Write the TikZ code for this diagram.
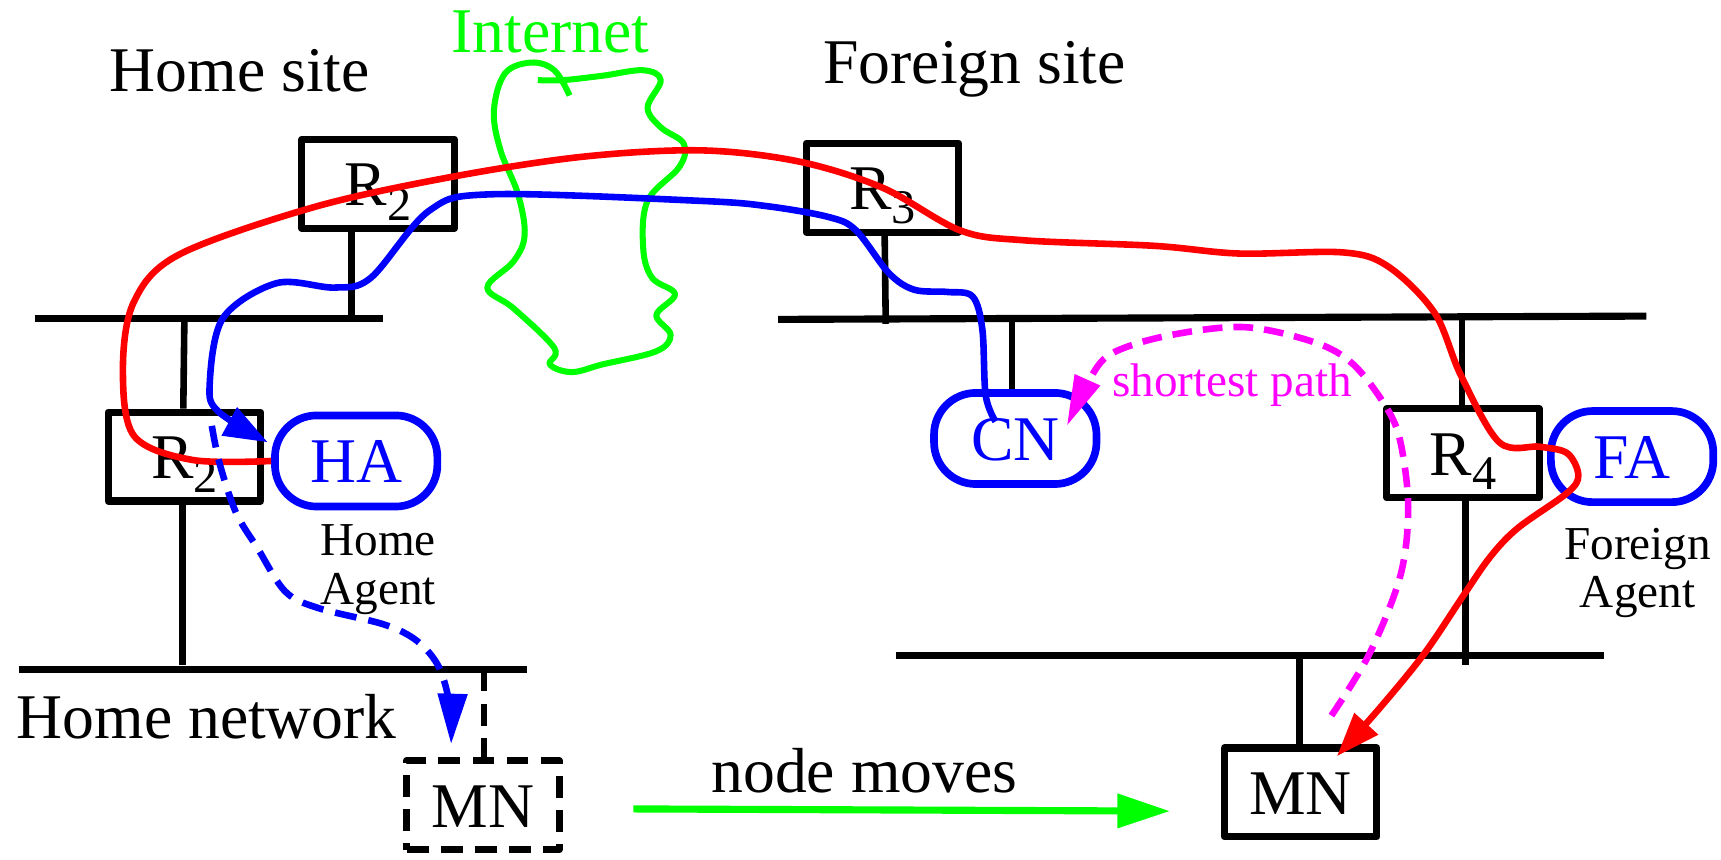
\documentclass[tikz,border=0pt]{standalone}
\usepackage{fontspec}
\setmainfont{Liberation Serif}
\usetikzlibrary{arrows.meta,calc}
\definecolor{pblue}{RGB}{0,0,255}
\definecolor{pred}{RGB}{255,0,0}
\definecolor{pgreen}{RGB}{0,255,0}
\definecolor{pmag}{RGB}{255,0,255}
\newcommand{\mainsz}{\fontsize{58}{62}\selectfont}
\newcommand{\smallsz}{\fontsize{43}{44}\selectfont}
\newcommand{\Rlab}[1]{R\raisebox{-13pt}{\fontsize{44}{44}\selectfont #1}}
\begin{document}
\begin{tikzpicture}[x=1pt,y=-1pt,line join=round]
\useasboundingbox (0,0) rectangle (1568,783);
\tikzset{
  router/.style={draw,line width=6.5pt,minimum width=139pt,minimum height=81pt,inner sep=0pt,font=\mainsz,text height=40pt,text depth=0pt},
  agent/.style={draw=pblue,text=pblue,line width=7pt,rounded corners=38pt,minimum width=148pt,minimum height=83pt,inner sep=0pt,font=\mainsz,text height=40pt,text depth=0pt},
  bus/.style={line width=6.5pt},
  stub/.style={line width=6pt},
  lab/.style={inner sep=0pt,font=\mainsz},
  smalllab/.style={inner sep=0pt,font=\smallsz,align=center},
  route/.style={line width=6pt},
  bigtip/.style={-{Triangle[length=40pt,width=28pt]}},
}
% network buses
\coordinate (b1w) at (32,290);   \coordinate (b1e) at (349,290);
\coordinate (b2w) at (709,291);  \coordinate (b2e) at (1500,288);
\coordinate (b3w) at (17,610);   \coordinate (b3e) at (480,610);
\coordinate (b4w) at (816,597);  \coordinate (b4e) at (1461,597);
\draw[bus] (b1w) -- (b1e);
\draw[bus] (b2w) -- (b2e);
\draw[bus] (b3w) -- (b3e);
\draw[bus] (b4w) -- (b4e);

% nodes
\node[router] (R2t) at (344.5,167.5) {\Rlab{2}};
\node[router] (R2l) at (168,416) {\Rlab{2}};
\node[router] (R3) at (804,171) {\Rlab{3}};
\node[router] (R4) at (1333,413) {\Rlab{4}};
\node[router,dash pattern=on 20pt off 11pt] (MNd) at (440,733.5) {MN};
\node[router] (MNs) at (1185,722) {MN};
\node[agent] (HA) at (324.5,420) {HA};
\node[agent] (CN) at (925,399.5) {CN};
\node[agent] (FA) at (1487,416) {FA};

% stubs
\draw[stub] (R2t.south -| 320,0) -- (320,290);
\draw[stub] (168,290) -- (R2l.north -| 167,0);
\draw[stub] (R2l.south -| 166.5,0) -- (166.5,606);
\draw[stub,dash pattern=on 20pt off 11pt] (441,610) -- (MNd.north -| 441,0);
\draw[stub] (R3.south -| 806,0) -- (807,295);
\draw[stub] (922,290) -- (CN.north -| 922,0);
\draw[stub] (1332,289) -- (R4.north -| 1332,0);
\draw[stub] (R4.south -| 1335,0) -- (1335,606);
\draw[stub] (1184,597) -- (MNs.north -| 1184,0);

% labels
\node[lab,anchor=base west] (homesite) at (100,83) {Home site};
\node[lab,anchor=base west,text=pgreen] (internet) at (411,48) {Internet};
\node[lab,anchor=base west] (foreignsite) at (750,76.5) {Foreign site};
\node[lab,anchor=base west] (homenet) at (15,673) {Home network};
\node[lab,anchor=base west] (moves) at (648,722) {node moves};
\node[smalllab,anchor=north] (haname) at (344.5,478) {Home\\Agent};
\node[smalllab,anchor=north] (faname) at (1492,481) {Foreign\\Agent};
\node[smalllab,anchor=base west,text=pmag] (shortest) at (1013,361) {shortest path};

% internet cloud
\draw[line width=5.5pt,pgreen] plot[smooth,tension=0.6] coordinates {
 (519,87) (505,64) (484,57) (460,67) (450,101) (456,137) (472,177) (478,214)
 (468,238) (444,262) (468,281) (505,317) (501,332) (521,339) (549,332) (598,320)
 (611,305) (598,287) (615,268) (594,253) (586,226) (590,183) (619,152) (623,131)
 (602,116) (590,98) (602,73) (586,64) (549,69) (513,73) (490,73)};

% node moves arrow
\coordinate (mvs) at (577,737);
\coordinate (mve) at (1066,739);
\draw[line width=6.5pt,pgreen,-{Triangle[length=48pt,width=30pt]}] (mvs) -- (mve);

% red route
\draw[route,pred,bigtip] plot[smooth,tension=0.55] coordinates {
 (HA.west) (175,419) (122,397) (112,336) (122,275) (163,232) (285,189) (407,162)
 (529,143) (638,137) (727,147) (804,171) (875,210) (934,219) (1052,224) (1129,231)
 (1224,230) (1265,243) (1307,285) (1331,342) (1366,403) (1403,407) (1428,413)
 (1438,433) (1428,449) (1383,481) (1358,507) (1333,543) (1298,595) (1258,644) (1218,689)};

% blue route
\draw[route,pblue,bigtip] plot[smooth,tension=0.55] coordinates {
 (907,384) (898,360) (895,300) (886,270) (863,266) (833,264) (810,249) (780,210)
 (756,198) (700,188) (638,183) (448,177) (391,192) (338,253) (305,262) (252,258)
 (203,290) (191,351) (199,375) (244,403)};

% blue dashed
\draw[route,pblue,dash pattern=on 20pt off 11pt,-{Triangle[length=46pt,width=26pt]}] plot[smooth,tension=0.55] coordinates {
 (193,388) (200,422) (215,467) (235,500) (260,539) (290,554) (350,569) (380,584)
 (400,608) (410,644) (411,678)};

% magenta shortest path
\draw[route,pmag,dash pattern=on 18pt off 10pt,-{Triangle[length=46pt,width=24pt]}] plot[smooth,tension=0.55] coordinates {
 (1213,652) (1248,595) (1276,524) (1283,462) (1276,403) (1263,371) (1233,332)
 (1198,312) (1133,298) (1063,306) (1013,322) (993,345) (972,388)};
\end{tikzpicture}
\end{document}
